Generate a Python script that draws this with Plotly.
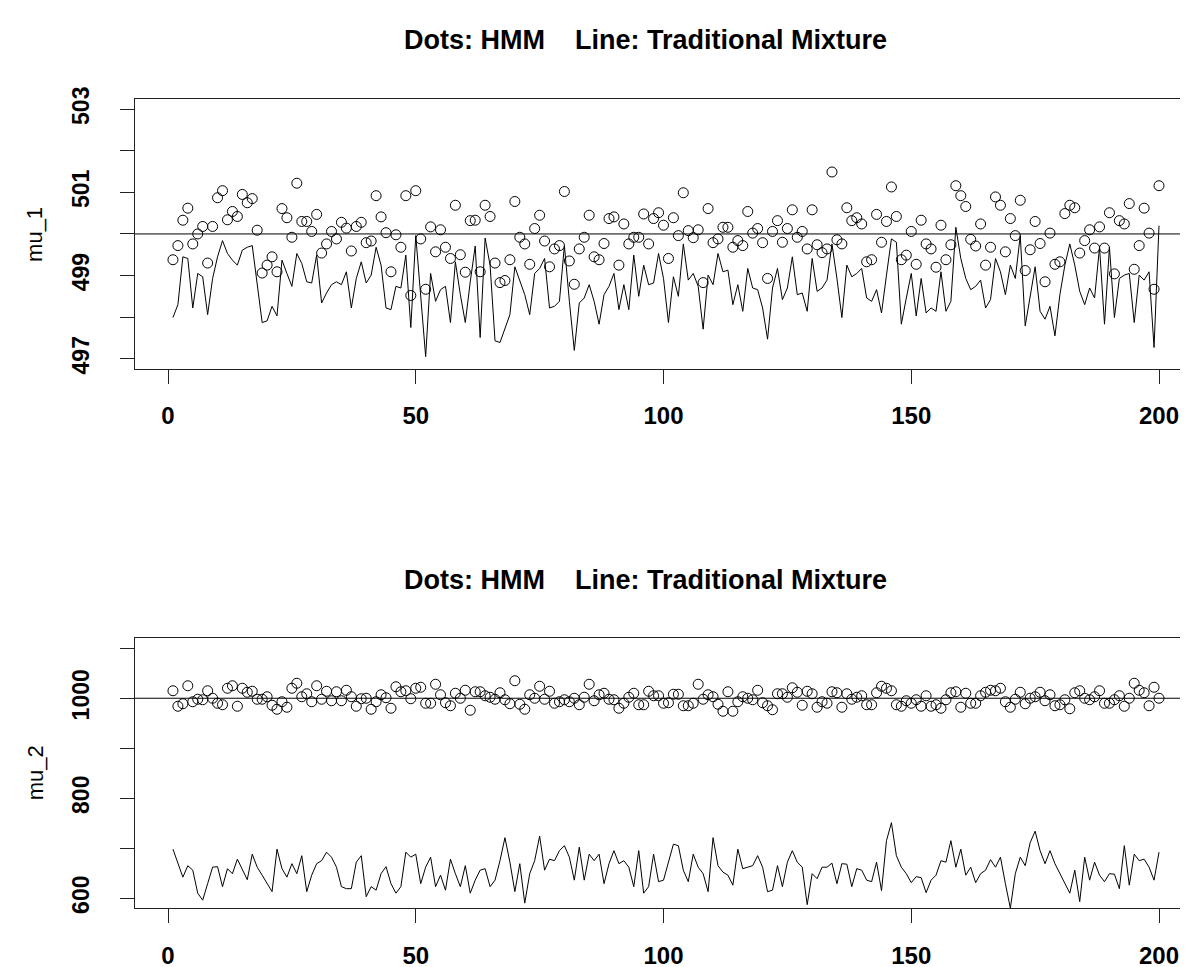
import plotly.graph_objects as go

idx = list(range(1, 201))

mu1_hmm = [
499.38, 499.72, 500.33, 500.62, 499.76, 500.00, 500.18, 499.30, 500.18, 500.87,
501.04, 500.34, 500.54, 500.42, 500.95, 500.75, 500.85, 500.09, 499.06, 499.25,
499.45, 499.09, 500.61, 500.39, 499.92, 501.22, 500.30, 500.30, 500.06, 500.47,
499.54, 499.76, 500.06, 499.88, 500.28, 500.14, 499.59, 500.18, 500.28, 499.79,
499.83, 500.92, 500.41, 500.03, 499.09, 499.98, 499.68, 500.92, 498.52, 501.04,
499.88, 498.67, 500.17, 499.57, 500.10, 499.68, 499.41, 500.69, 499.50, 499.08,
500.32, 500.33, 499.09, 500.69, 500.42, 499.30, 498.83, 498.88, 499.38, 500.78,
499.92, 499.76, 499.27, 500.13, 500.45, 499.83, 499.21, 499.64, 499.72, 501.02,
499.35, 498.79, 499.64, 499.92, 500.45, 499.45, 499.38, 499.77, 500.37, 500.41,
499.25, 500.24, 499.76, 499.92, 499.92, 500.48, 499.76, 500.37, 500.51, 500.21,
499.41, 500.39, 499.96, 500.99, 500.08, 499.91, 500.10, 498.83, 500.61, 499.79,
499.88, 500.16, 500.16, 499.68, 499.84, 499.72, 500.54, 500.02, 500.13, 499.79,
498.93, 500.06, 500.32, 499.80, 500.13, 500.58, 499.92, 500.06, 499.64, 500.58,
499.74, 499.55, 499.64, 501.49, 499.86, 499.76, 500.63, 500.32, 500.39, 500.24,
499.33, 499.38, 500.47, 499.80, 500.30, 501.13, 500.42, 499.38, 499.49, 500.06,
499.27, 500.33, 499.76, 499.64, 499.20, 500.21, 499.38, 499.74, 501.16, 500.92,
500.66, 499.87, 499.71, 500.24, 499.25, 499.68, 500.89, 500.69, 499.57, 500.37,
499.96, 500.81, 499.12, 499.62, 500.30, 499.77, 498.85, 500.02, 499.27, 499.33,
500.49, 500.69, 500.63, 499.54, 499.84, 500.10, 499.66, 500.17, 499.66, 500.51,
499.04, 500.32, 500.24, 500.73, 499.15, 499.72, 500.62, 500.02, 498.67, 501.16,
]

mu1_mix = [
497.99, 498.30, 499.45, 499.41, 498.22, 499.05, 498.97, 498.06, 498.93, 499.45,
499.84, 499.53, 499.37, 499.25, 499.61, 499.68, 499.72, 498.85, 497.87, 497.91,
498.26, 498.03, 499.37, 499.05, 498.74, 499.53, 499.29, 498.85, 498.82, 499.49,
498.34, 498.58, 498.78, 498.85, 498.78, 499.09, 498.22, 498.93, 499.33, 498.82,
499.01, 499.68, 499.25, 498.22, 498.18, 498.74, 498.70, 499.49, 497.75, 499.96,
498.60, 497.05, 499.05, 498.38, 498.66, 498.74, 497.87, 499.33, 498.54, 497.87,
498.85, 499.71, 497.51, 499.90, 499.25, 497.43, 497.39, 497.71, 498.06, 499.21,
498.85, 498.54, 498.06, 499.05, 499.17, 499.41, 498.22, 498.26, 498.38, 499.72,
498.38, 497.20, 498.34, 498.46, 498.78, 498.38, 497.83, 498.54, 498.74, 499.05,
498.18, 498.78, 498.18, 499.49, 498.50, 499.25, 498.78, 498.82, 499.53, 498.93,
497.87, 498.97, 498.50, 499.76, 498.89, 499.05, 498.74, 497.71, 499.01, 498.78,
499.53, 499.09, 499.13, 498.30, 498.78, 498.14, 499.17, 498.70, 498.66, 498.22,
497.47, 498.70, 499.17, 498.42, 498.70, 499.45, 498.54, 498.58, 498.14, 499.41,
498.62, 498.70, 498.89, 499.76, 498.93, 497.99, 499.25, 498.97, 499.05, 499.17,
498.46, 498.38, 498.66, 498.10, 499.01, 499.88, 499.80, 497.83, 498.46, 499.05,
498.03, 498.93, 498.10, 498.22, 498.14, 499.09, 498.14, 498.38, 500.16, 499.41,
498.93, 498.66, 498.74, 498.89, 498.22, 498.42, 499.41, 499.09, 498.54, 499.25,
498.93, 499.96, 497.79, 498.54, 499.21, 498.14, 497.95, 498.26, 497.55, 498.54,
499.25, 499.76, 499.25, 498.62, 498.30, 498.70, 498.46, 499.68, 497.83, 499.68,
497.99, 498.93, 499.01, 499.05, 497.87, 499.01, 498.89, 499.09, 497.27, 500.20,
]

mu2_hmm = [
1015, 984, 989, 1025, 993, 998, 997, 1015, 1000, 990,
987, 1020, 1025, 984, 1020, 1012, 1014, 998, 998, 1003,
986, 978, 993, 982, 1020, 1030, 1003, 1009, 993, 1025,
998, 1014, 995, 1013, 995, 1016, 1003, 984, 999, 1000,
978, 993, 1007, 1001, 980, 1023, 1013, 1015, 999, 1020,
1022, 990, 990, 1028, 1007, 991, 985, 1010, 1000, 1016,
976, 1013, 1013, 1005, 1002, 998, 1011, 997, 989, 1035,
988, 978, 1007, 1000, 1024, 998, 1014, 990, 993, 997,
993, 1000, 987, 1002, 1028, 995, 1007, 1010, 998, 997,
980, 990, 1002, 1010, 987, 987, 1014, 1005, 1005, 990,
991, 1008, 1008, 985, 985, 990, 1028, 998, 1007, 1003,
988, 974, 1013, 974, 993, 1003, 1000, 997, 1016, 991,
985, 977, 1009, 1009, 1002, 1021, 1012, 986, 1014, 1009,
982, 993, 990, 1013, 1011, 982, 1009, 998, 1002, 1005,
987, 987, 1011, 1024, 1020, 1015, 987, 984, 995, 990,
997, 984, 1005, 984, 987, 980, 997, 1011, 1013, 982,
1010, 990, 990, 1005, 1012, 1016, 1015, 1020, 993, 982,
998, 1012, 989, 1000, 1003, 1012, 995, 1007, 985, 987,
997, 979, 1011, 1015, 1000, 997, 1003, 1015, 990, 990,
997, 1005, 984, 1000, 1030, 1016, 1011, 985, 1022, 1000,
]

mu2_mix = [
698, 669, 642, 665, 656, 610, 596, 629, 662, 663,
623, 659, 649, 678, 659, 637, 688, 662, 646, 629,
613, 698, 659, 642, 669, 649, 685, 613, 646, 669,
675, 692, 682, 662, 623, 619, 619, 672, 685, 603,
623, 616, 649, 663, 629, 610, 623, 692, 682, 688,
629, 662, 682, 623, 646, 616, 678, 649, 623, 665,
610, 636, 656, 659, 623, 636, 675, 721, 672, 613,
669, 590, 649, 675, 724, 656, 678, 675, 695, 705,
682, 636, 702, 636, 688, 675, 688, 629, 669, 695,
669, 675, 662, 623, 695, 610, 623, 688, 633, 636,
675, 708, 705, 656, 633, 688, 662, 649, 613, 721,
665, 652, 646, 626, 698, 659, 662, 665, 685, 662,
613, 616, 665, 623, 672, 695, 672, 662, 587, 649,
639, 662, 662, 670, 629, 669, 668, 623, 659, 656,
636, 633, 672, 615, 715, 751, 685, 662, 649, 631,
643, 641, 611, 636, 646, 675, 672, 715, 662, 698,
646, 662, 631, 649, 656, 677, 662, 682, 629, 580,
649, 682, 665, 711, 734, 695, 669, 695, 669, 649,
629, 610, 656, 593, 682, 636, 672, 646, 633, 649,
648, 619, 705, 626, 688, 675, 678, 662, 636, 692,
]

true_mu1 = 500
true_mu2 = 1000

x_ticks = [0, 50, 100, 150, 200]
y1_ticks = [497, 498, 499, 500, 501, 502, 503]
y1_text = ["497", "", "499", "", "501", "", "503"]
y2_ticks = [600, 700, 800, 900, 1000, 1100]
y2_text = ["600", "", "800", "", "1000", ""]

title_text = "Dots: HMM\u00a0\u00a0\u00a0\u00a0Line: Traditional Mixture"
FONT = "Liberation Sans, Arial, sans-serif"
NARROW = "Liberation Sans Narrow, Liberation Sans, Arial, sans-serif"
W, H = 1188, 967
AXC = "#222222"

fig = go.Figure()
fig.add_trace(go.Scatter(x=idx, y=mu1_hmm, mode="markers", xaxis="x", yaxis="y",
                         marker=dict(symbol="circle-open", size=10, color="black",
                                     line=dict(width=1, color="black"))))
fig.add_trace(go.Scatter(x=idx, y=mu1_mix, mode="lines", xaxis="x", yaxis="y",
                         line=dict(color="black", width=1)))
fig.add_trace(go.Scatter(x=idx, y=mu2_hmm, mode="markers", xaxis="x2", yaxis="y2",
                         marker=dict(symbol="circle-open", size=10, color="black",
                                     line=dict(width=1, color="black"))))
fig.add_trace(go.Scatter(x=idx, y=mu2_mix, mode="lines", xaxis="x2", yaxis="y2",
                         line=dict(color="black", width=1)))

left_px = 127
x0_px = 160
px_per_unit = 4.955
xrange = [(left_px - x0_px) / px_per_unit, (W - x0_px) / px_per_unit]
xdom = [left_px / W, 1.0]

common_x = dict(range=xrange, domain=xdom, showgrid=False, zeroline=False,
                showline=True, linecolor=AXC, linewidth=1, mirror=True,
                ticks="outside", ticklen=14, tickwidth=1, tickcolor=AXC,
                tickvals=x_ticks, ticktext=[str(v) for v in x_ticks],
                tickfont=dict(family=FONT, size=24, color="black", weight="bold"),
                ticklabelstandoff=12)
common_y = dict(showgrid=False, zeroline=False, showline=True, linecolor=AXC,
                linewidth=1, ticks="outside", ticklen=14, tickwidth=1, tickcolor=AXC,
                tickangle=-90,
                tickfont=dict(family=NARROW, size=23, color="black", weight="bold"),
                ticklabelstandoff=22)

top_dom = [1 - 355.3 / H, 1 - 80.7 / H]
bot_dom = [1 - 905 / H, 1 - 630 / H]

fig.update_layout(
    width=W, height=H, margin=dict(l=0, r=0, t=0, b=0),
    paper_bgcolor="white", plot_bgcolor="white", showlegend=False,
    xaxis=dict(anchor="y", **common_x),
    xaxis2=dict(anchor="y2", **common_x),
    yaxis=dict(anchor="x", domain=top_dom, range=[496.76, 503.24],
               tickvals=y1_ticks, ticktext=y1_text, **common_y),
    yaxis2=dict(anchor="x2", domain=bot_dom, range=[580, 1120],
                tickvals=y2_ticks, ticktext=y2_text, **common_y),
)

fig.add_shape(type="line", xref="x domain", yref="y", x0=0, x1=1,
              y0=true_mu1, y1=true_mu1, line=dict(color="black", width=1))
fig.add_shape(type="line", xref="x2 domain", yref="y2", x0=0, x1=1,
              y0=true_mu2, y1=true_mu2, line=dict(color="black", width=1))

for ty in [20.0, 571]:
    fig.add_annotation(text=title_text, xref="paper", yref="paper",
                       x=637.5 / W, y=1 - ty / H, showarrow=False,
                       xanchor="center", yanchor="middle",
                       font=dict(family=FONT, size=27, color="black", weight="bold"))

for lab, cy in [("mu_1", 219), ("mu_2", 767.5)]:
    fig.add_annotation(text=lab, xref="paper", yref="paper",
                       x=27 / W, y=1 - cy / H, showarrow=False, textangle=-90,
                       xanchor="center", yanchor="middle",
                       font=dict(family=FONT, size=22, color="black"))

fig.write_html("out.html")
